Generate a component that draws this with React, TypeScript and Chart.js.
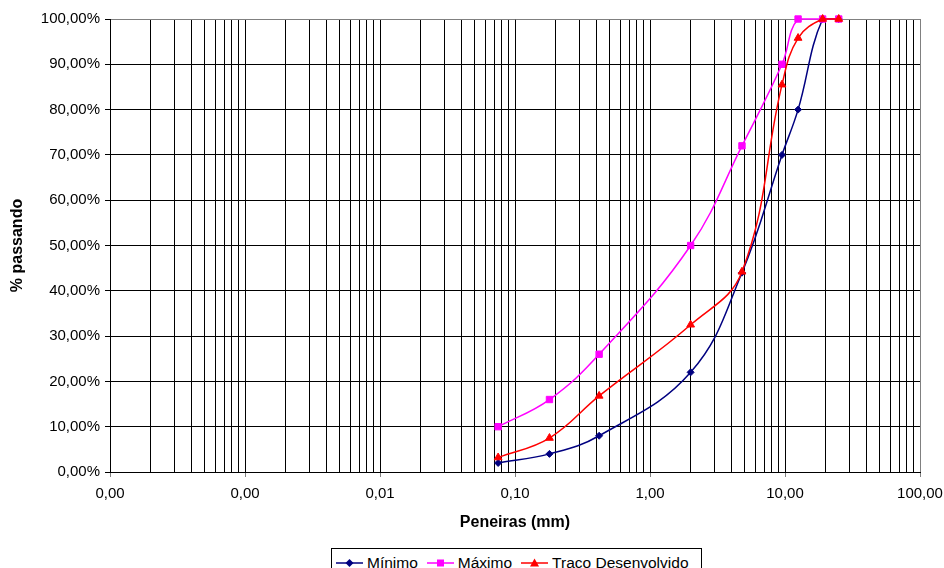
import React, { useEffect, useRef } from "react";
import { Chart, registerables } from "chart.js";

Chart.register(...registerables);

// ---- data ----
const sieveSizes = [0.075, 0.18, 0.42, 2.0, 4.8, 9.5, 12.5, 19, 25];
const minimo = [2, 4, 8, 22, 44, 70, 80, 100, 100];
const maximo = [10, 16, 26, 50, 72, 90, 100, 100, 100];
const traco = [3.2, 7.5, 16.8, 32.5, 44.2, 85.5, 95.8, 100, 100];

const seriesNames = ["Mínimo", "Máximo", "Traço Desenvolvido"];
const seriesColors = ["#000080", "#FF00FF", "#FF0000"];

const xMajorTicks = [0.0001, 0.001, 0.01, 0.1, 1, 10, 100];
const minorMultipliers = [2, 3, 4, 5, 6, 7, 8, 9];
const yTicks = [0, 10, 20, 30, 40, 50, 60, 70, 80, 90, 100];

const FONT = "'Liberation Sans', Arial, Helvetica, sans-serif";

const isMajor = (v: number) => {
  const l = Math.log10(v);
  return Math.abs(l - Math.round(l)) < 1e-9;
};
const fmt = (v: number) => v.toFixed(2).replace(".", ",");

function buildXTicks() {
  const out: number[] = [];
  for (let i = 0; i < xMajorTicks.length; i++) {
    out.push(xMajorTicks[i]);
    if (i < xMajorTicks.length - 1) {
      for (const m of minorMultipliers) out.push(xMajorTicks[i] * m);
    }
  }
  return out;
}

function LegendIcon({ color, shape }: { color: string; shape: string }) {
  let marker: React.ReactNode = null;
  if (shape === "diamond") marker = <polygon points="13.5,1 17.5,5 13.5,9 9.5,5" fill={color} />;
  else if (shape === "square") marker = <rect x="10" y="1.5" width="7" height="7" fill={color} />;
  else marker = <polygon points="13.5,0.5 18,8.5 9,8.5" fill={color} />;
  return (
    <svg width="27" height="10" style={{ display: "block", marginRight: 4 }}>
      <line x1="0" y1="5" x2="27" y2="5" stroke={color} strokeWidth="1.5" />
      {marker}
    </svg>
  );
}

export default function App() {
  const ref = useRef<HTMLCanvasElement | null>(null);

  useEffect(() => {
    if (!ref.current) return;
    const xTickVals = buildXTicks();
    const shapes = ["rectRot", "rect", "triangle"];
    const radii = [3.5, 4.5, 4.5];
    const values = [minimo, maximo, traco];
    const chart = new Chart(ref.current, {
      type: "line",
      data: {
        datasets: values.map((vals, i) => ({
          label: seriesNames[i],
          data: sieveSizes.map((s, j) => ({ x: s, y: vals[j] })),
          borderColor: seriesColors[i],
          backgroundColor: seriesColors[i],
          pointBackgroundColor: seriesColors[i],
          pointBorderColor: seriesColors[i],
          pointStyle: shapes[i] as any,
          pointRadius: radii[i],
          pointBorderWidth: 1,
          borderWidth: 1.5,
          tension: 0.4,
          fill: false,
          clip: false as any,
          order: 3 - i,
        })),
      },
      options: {
        responsive: false,
        animation: false,
        devicePixelRatio: 1,
        layout: { padding: { left: 0, top: 19, right: 24, bottom: 28 } },
        plugins: {
          legend: { display: false },
          tooltip: { enabled: false },
        },
        scales: {
          x: {
            type: "logarithmic",
            min: 0.0001,
            max: 100,
            afterBuildTicks: (axis: any) => {
              axis.ticks = xTickVals.map((v) => ({ value: v, major: isMajor(v) }));
            },
            afterFit: (axis: any) => {
              axis.height = 68;
              axis.paddingRight = 0;
              axis.paddingLeft = 0;
            },
            ticks: {
              autoSkip: false,
              maxRotation: 0,
              minRotation: 0,
              color: "#000",
              padding: 8,
              font: { family: FONT, size: 15 },
              callback: (v: any) => (isMajor(Number(v)) ? fmt(Number(v)) : ""),
            },
            grid: {
              color: (ctx: any) => (ctx.tick && Math.abs(ctx.tick.value - 100) < 1e-9 ? "#808080" : "#000"),
              lineWidth: 1,
              drawTicks: true,
              tickLength: 5,
              tickColor: (ctx: any) => (ctx.tick && isMajor(ctx.tick.value) ? "#808080" : "rgba(0,0,0,0)"),
            },
            border: { display: true, color: "#000", width: 1 },
            title: {
              display: true,
              text: "Peneiras (mm)",
              color: "#000",
              font: { family: FONT, size: 16, weight: "bold" },
              padding: { top: 0, bottom: 8 },
            },
          },
          y: {
            type: "linear",
            min: 0,
            max: 100,
            afterBuildTicks: (axis: any) => {
              axis.ticks = yTicks.map((v) => ({ value: v }));
            },
            afterFit: (axis: any) => {
              axis.width = 110;
            },
            ticks: {
              color: "#000",
              padding: 5,
              font: { family: FONT, size: 15 },
              callback: (v: any) => fmt(Number(v)) + "%",
            },
            grid: {
              color: (ctx: any) => (ctx.tick && ctx.tick.value === 100 ? "#808080" : "#000"),
              lineWidth: 1,
              drawTicks: true,
              tickLength: 5,
              tickColor: "#000",
            },
            border: { display: true, color: "#000", width: 1 },
            title: {
              display: true,
              text: "% passando",
              color: "#000",
              font: { family: FONT, size: 16, weight: "bold" },
              padding: { top: 8, bottom: 0 },
            },
          },
        },
      } as any,
    });
    return () => chart.destroy();
  }, []);

  const legendShapes = ["diamond", "square", "triangle"];
  return (
    <div style={{ position: "absolute", left: 0, top: 0, width: 944, height: 568, overflow: "hidden", background: "#fff" }}>
      <canvas ref={ref} width={944} height={568} style={{ display: "block", width: 944, height: 568 }} />
      <div
        style={{
          position: "absolute",
          left: 331,
          top: 548,
          width: 365,
          height: 28,
          border: "1px solid #000",
          display: "flex",
          alignItems: "center",
          paddingLeft: 4,
          fontFamily: FONT,
          fontSize: 15.5,
          color: "#000",
          background: "#fff",
          boxSizing: "content-box",
        }}
      >
        {seriesNames.map((n, i) => (
          <div key={n} style={{ display: "flex", alignItems: "center", marginRight: 9, whiteSpace: "nowrap" }}>
            <LegendIcon color={seriesColors[i]} shape={legendShapes[i]} />
            <span>{n}</span>
          </div>
        ))}
      </div>
    </div>
  );
}
